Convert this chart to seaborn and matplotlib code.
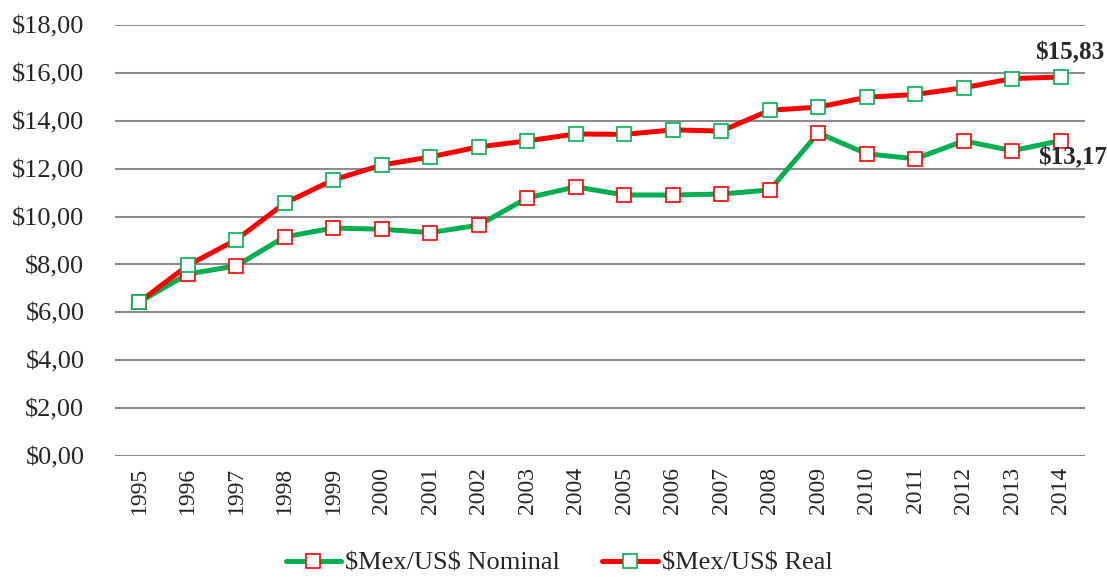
import pandas as pd
import seaborn as sns
import matplotlib.pyplot as plt

years = [str(y) for y in range(1995, 2015)]
nominal = [6.43, 7.60, 7.94, 9.15, 9.52, 9.47, 9.33, 9.64, 10.78, 11.24,
           10.90, 10.90, 10.94, 11.11, 13.49, 12.62, 12.41, 13.16, 12.75, 13.17]
real = [6.43, 7.96, 9.03, 10.56, 11.53, 12.15, 12.49, 12.91, 13.16, 13.45,
        13.43, 13.62, 13.57, 14.44, 14.57, 14.98, 15.10, 15.38, 15.76, 15.83]
yticks = [0, 2, 4, 6, 8, 10, 12, 14, 16, 18]

df = pd.DataFrame({"year": years, "Nominal": nominal, "Real": real})
df["pos"] = range(len(years))

sns.set_style("white")
plt.rcParams['font.family'] = ['Liberation Serif', 'DejaVu Serif']

green = "#00B050"
red = "#FF0000"

fig = plt.figure(figsize=(11.07, 5.77), dpi=100)
ax = fig.add_axes([0.1039, 0.2097, 0.8763, 0.7470])

sns.lineplot(data=df, x="pos", y="Nominal", ax=ax, color=green, linewidth=3.6,
             marker="s", markersize=10, markerfacecolor="white",
             markeredgecolor=red, markeredgewidth=1.2, label="\\$Mex/US\\$ Nominal")
sns.lineplot(data=df, x="pos", y="Real", ax=ax, color=red, linewidth=3.6,
             marker="s", markersize=10, markerfacecolor="white",
             markeredgecolor=green, markeredgewidth=1.2, label="\\$Mex/US\\$ Real")

ax.set_xlim(-0.5, len(years) - 0.5)
ax.set_ylim(0, 18)
ax.set_yticks(yticks)
ax.set_yticklabels(["\\$%d,00" % v for v in yticks], fontsize=19)
ax.set_xticks(df["pos"])
ax.set_xticklabels(years, rotation=90, fontsize=17)
ax.set_xlabel("")
ax.set_ylabel("")
ax.tick_params(axis="y", length=0, pad=22)
ax.tick_params(axis="x", length=0, pad=8)
ax.yaxis.grid(True, color="#8c8c8c", linewidth=1.5)
for s in ax.spines.values():
    s.set_visible(False)

ax.text(len(years) - 1 + 0.18, real[-1] + 1.0, "\\$15,83", fontsize=18,
        fontweight="bold", ha="center", va="center")
ax.text(len(years) - 1 + 0.25, nominal[-1] - 0.7, "\\$13,17", fontsize=18,
        fontweight="bold", ha="center", va="center")

ax.legend(loc="center", bbox_to_anchor=(0.505, 0.024), bbox_transform=fig.transFigure,
          ncol=2, frameon=False, fontsize=19, handlelength=2.1,
          columnspacing=1.6, handletextpad=0.15, borderaxespad=0, borderpad=0)

fig.savefig("out.png", dpi=100)
